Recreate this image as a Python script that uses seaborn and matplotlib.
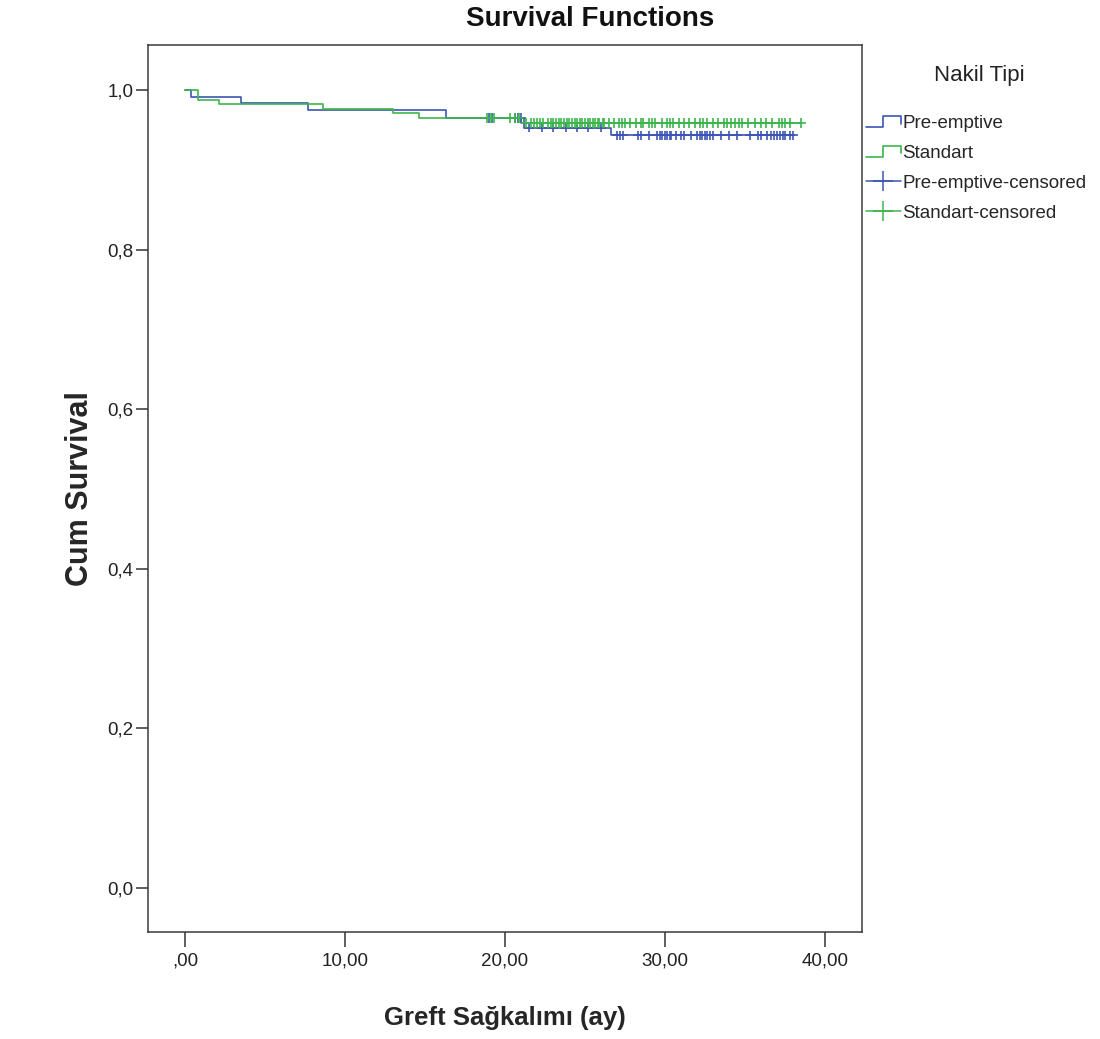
import numpy as np
import pandas as pd
import matplotlib
matplotlib.use("Agg")
import matplotlib.pyplot as plt
import seaborn as sns
from matplotlib.legend_handler import HandlerBase
from matplotlib.lines import Line2D

# ---------------- data ----------------
groups = ["Pre-emptive", "Standart"]

pre_event_times = [0.0, 0.4, 3.5, 7.7, 16.3, 21.2, 26.6, 38.0]
pre_event_surv = [1.0, 0.9916, 0.9833, 0.975, 0.965, 0.953, 0.943, 0.943]

std_event_times = [0.0, 0.8, 2.1, 8.6, 13.0, 14.6, 21.0, 38.5]
std_event_surv = [1.0, 0.988, 0.9825, 0.976, 0.971, 0.9645, 0.959, 0.959]

pre_censored = [19.0, 19.2, 20.6, 20.8, 21.0, 21.5, 22.3, 23.0, 23.8, 24.5,
                25.2, 26.0, 27.0, 27.2, 27.4, 28.3, 28.5, 29.0, 29.5, 29.7,
                29.8, 30.0, 30.1, 30.3, 30.4, 30.7, 31.0, 31.2, 31.6, 32.0,
                32.2, 32.3, 32.5, 32.6, 32.8, 33.0, 33.5, 34.0, 34.5, 35.3,
                35.8, 36.0, 36.4, 36.6, 36.8, 37.0, 37.2, 37.4, 37.5, 37.8,
                38.0]
std_censored = [18.9, 19.1, 19.3, 20.3, 20.6, 20.9, 21.3, 21.6, 21.8, 22.0,
                22.2, 22.4, 22.7, 22.9, 23.0, 23.2, 23.4, 23.5, 23.7, 23.9,
                24.0, 24.2, 24.4, 24.5, 24.7, 24.8, 25.0, 25.2, 25.3, 25.5,
                25.6, 25.8, 25.9, 26.1, 26.2, 26.5, 26.8, 27.1, 27.3, 27.5,
                27.8, 28.2, 28.5, 28.6, 29.0, 29.2, 29.4, 29.8, 30.1, 30.3,
                30.5, 30.9, 31.2, 31.5, 31.9, 32.2, 32.4, 32.6, 33.0, 33.3,
                33.7, 33.9, 34.1, 34.4, 34.6, 34.8, 35.2, 35.6, 36.0, 36.3,
                36.7, 37.1, 37.3, 37.5, 37.8, 38.5]

x_ticks = [0, 10, 20, 30, 40]
x_tick_labels = [",00", "10,00", "20,00", "30,00", "40,00"]
y_ticks = [0.0, 0.2, 0.4, 0.6, 0.8, 1.0]
y_tick_labels = ["0,0", "0,2", "0,4", "0,6", "0,8", "1,0"]

colors = {"Pre-emptive": "#3d55b5", "Standart": "#3cb54a"}

# ---------------- tables ----------------
curves = pd.concat([
    pd.DataFrame({"group": "Pre-emptive", "time": pre_event_times, "surv": pre_event_surv}),
    pd.DataFrame({"group": "Standart", "time": std_event_times, "surv": std_event_surv}),
], ignore_index=True)


def surv_at(times, ev_t, ev_s):
    idx = np.searchsorted(np.asarray(ev_t), np.asarray(times), side="right") - 1
    return np.asarray(ev_s)[idx]


cens = pd.concat([
    pd.DataFrame({"group": "Pre-emptive", "time": pre_censored,
                  "surv": surv_at(pre_censored, pre_event_times, pre_event_surv)}),
    pd.DataFrame({"group": "Standart", "time": std_censored,
                  "surv": surv_at(std_censored, std_event_times, std_event_surv)}),
], ignore_index=True)

# ---------------- figure ----------------
sns.set_style("white")
plt.rcParams["font.family"] = ["Liberation Sans", "DejaVu Sans"]

W, H = 1100, 1039
fig = plt.figure(figsize=(W / 100, H / 100), dpi=100)
L, R, T, B = 148, 862, 45, 932
ax = fig.add_axes([L / W, 1 - B / H, (R - L) / W, (B - T) / H])

sns.lineplot(data=curves, x="time", y="surv", hue="group", palette=colors,
             drawstyle="steps-post", estimator=None, sort=False, legend=False,
             linewidth=1.2, ax=ax)
sns.scatterplot(data=cens, x="time", y="surv", hue="group", palette=colors,
                marker="+", s=50, linewidth=1.2, legend=False, ax=ax, zorder=3)

x0 = -2.3125
x1 = x0 + (R - L) / 16.0
ax.set_xlim(x0, x1)
y_top = 1.0 + (90 - T) / 798.0
y_bot = 0.0 - (B - 888) / 798.0
ax.set_ylim(y_bot, y_top)

ax.set_xticks(x_ticks)
ax.set_xticklabels(x_tick_labels)
ax.set_yticks(y_ticks)
ax.set_yticklabels(y_tick_labels)
ax.tick_params(axis="both", direction="out", colors="#333333", labelcolor="#222222",
               width=1.1, labelsize=13.5)
ax.tick_params(axis="x", length=11, pad=4)
ax.tick_params(axis="y", length=8.5, pad=2)
ax.tick_params(top=False, right=False, left=True, bottom=True)
for sp in ax.spines.values():
    sp.set_visible(True)
    sp.set_color("#3a3a3a")
    sp.set_linewidth(1.1)
ax.grid(False)

ax.set_xlabel("Greft Sağkalımı (ay)", fontsize=18.5, fontweight="bold", va="center")
ax.xaxis.set_label_coords(0.5, -(1018 - B) / (B - T))
ax.set_ylabel("Cum Survival", fontsize=22, fontweight="bold", va="center")
ax.yaxis.set_label_coords(-(L - 80) / (R - L), 0.5)

fig.text(590 / W, 1 - 19 / H, "Survival Functions", ha="center", va="center",
         fontsize=20, fontweight="bold", color="#111111")

fig.text(979 / W, 1 - 75 / H, "Nakil Tipi", ha="center", va="center",
         fontsize=16, color="#222222")


class StepHandler(HandlerBase):
    def create_artists(self, legend, orig_handle, xdescent, ydescent, width,
                       height, fontsize, trans):
        xa = -xdescent
        ya = -ydescent
        xs = [xa, xa + 0.5 * width, xa + 0.5 * width, xa + width, xa + width]
        ys = [ya + 0.1 * height, ya + 0.1 * height, ya + 0.95 * height,
              ya + 0.95 * height, ya + 0.35 * height]
        ln = Line2D(xs, ys, color=orig_handle.get_color(), lw=1.2,
                    transform=trans)
        return [ln]


h_pre = Line2D([], [], color=colors["Pre-emptive"])
h_std = Line2D([], [], color=colors["Standart"])
h_pre_c = Line2D([], [], color=colors["Pre-emptive"], marker="+", markersize=14,
                 lw=1.1, mew=1.1)
h_std_c = Line2D([], [], color=colors["Standart"], marker="+", markersize=14,
                 lw=1.1, mew=1.1)
fig.legend([h_pre, h_std, h_pre_c, h_std_c],
           ["Pre-emptive", "Standart", "Pre-emptive-censored", "Standart-censored"],
           handler_map={h_pre: StepHandler(), h_std: StepHandler()},
           loc="upper left", bbox_to_anchor=(866 / W, 1 - 115 / H),
           frameon=False, borderpad=0, borderaxespad=0, fontsize=13.5,
           handlelength=1.85, handletextpad=0.1, labelspacing=0.68,
           numpoints=1)

fig.savefig("out.png", dpi=100)
